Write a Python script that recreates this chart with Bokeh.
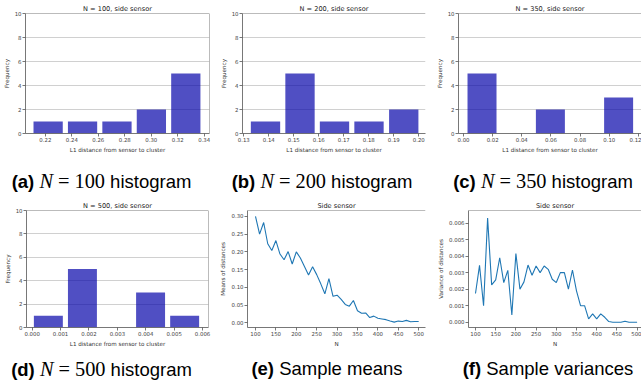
from bokeh.plotting import figure
from bokeh.layouts import column, row
from bokeh.models import Div, FixedTicker, PrintfTickFormatter, Range1d, Span
from bokeh.embed import file_html
from bokeh.resources import INLINE

# ---------------- data ----------------
HIST_A_CENTERS = [0.2221, 0.2481, 0.2741, 0.3001, 0.3261]
HIST_A_COUNTS = [1, 1, 1, 2, 5]
HIST_B_CENTERS = [0.1387, 0.1525, 0.1663, 0.1801, 0.1940]
HIST_B_COUNTS = [1, 5, 1, 1, 2]
HIST_C_CENTERS = [0.0127, 0.0361, 0.0596, 0.0830, 0.1064]
HIST_C_COUNTS = [5, 0, 2, 0, 3]
HIST_D_CENTERS = [0.00057, 0.00177, 0.00297, 0.00417, 0.00537]
HIST_D_COUNTS = [1, 5, 0, 3, 1]

HIST_A_TICKS = [0.22, 0.24, 0.26, 0.28, 0.30, 0.32, 0.34]
HIST_B_TICKS = [0.13, 0.14, 0.15, 0.16, 0.17, 0.18, 0.19, 0.20]
HIST_C_TICKS = [0.00, 0.02, 0.04, 0.06, 0.08, 0.10, 0.12]
HIST_D_TICKS = [0.000, 0.001, 0.002, 0.003, 0.004, 0.005, 0.006]
FREQ_TICKS = [0, 2, 4, 6, 8, 10]

N_VALUES = [100, 110, 120, 130, 140, 150, 160, 170, 180, 190,
            200, 210, 220, 230, 240, 250, 260, 270, 280, 290,
            300, 310, 320, 330, 340, 350, 360, 370, 380, 390,
            400, 410, 420, 430, 440, 450, 460, 470, 480, 490, 500]
MEANS = [0.300, 0.250, 0.283, 0.223, 0.204, 0.232, 0.194, 0.178, 0.201, 0.166,
         0.200, 0.183, 0.159, 0.135, 0.158, 0.136, 0.110, 0.082, 0.125, 0.075,
         0.078, 0.066, 0.052, 0.047, 0.063, 0.034, 0.027, 0.028, 0.015, 0.019,
         0.013, 0.011, 0.009, 0.005, 0.002, 0.005, 0.004, 0.007, 0.003, 0.004, 0.004]
VARIANCES = [0.00174, 0.00344, 0.00100, 0.00630, 0.00226, 0.00256, 0.00390, 0.00240, 0.00314, 0.00044,
             0.00416, 0.00200, 0.00244, 0.00346, 0.00284, 0.00340, 0.00300, 0.00340, 0.00320, 0.00260,
             0.00240, 0.00300, 0.00300, 0.00200, 0.00316, 0.00190, 0.00100, 0.00100, 0.00020, 0.00050,
             0.00020, 0.00050, 0.00030, 0.00004, 0.00000, 0.00000, 0.00000, 0.00006, 0.00000, 0.00000, 0.00000]
N_TICKS = [100, 150, 200, 250, 300, 350, 400, 450, 500]
MEAN_TICKS = [0.00, 0.05, 0.10, 0.15, 0.20, 0.25, 0.30]
VAR_TICKS = [0.000, 0.001, 0.002, 0.003, 0.004, 0.005, 0.006]

# ---------------- style ----------------
FONT = "DejaVu Sans"
SPINE = "#555555"
BAR_COLOR = "#0504aa"
LINE_COLOR = "#1f77b4"


def base_fig(title, w, h, bl, br, bt, bb, xr, yr, xticks, xfmt, yticks, yfmt,
             xlabel, ylabel, right_spine, ygrid):
    p = figure(width=w, height=h, output_backend="svg", toolbar_location=None,
               x_range=Range1d(*xr), y_range=Range1d(*yr),
               min_border_left=bl, min_border_right=br,
               min_border_top=bt, min_border_bottom=bb)
    p.title.text = title
    p.title.text_font = FONT
    p.title.text_font_size = "6.6px"
    p.title.text_font_style = "normal"
    p.title.text_color = "#222222"
    p.title.align = "center"
    p.title.standoff = 2
    p.outline_line_color = None
    p.xaxis.ticker = FixedTicker(ticks=xticks)
    p.yaxis.ticker = FixedTicker(ticks=yticks)
    p.xaxis.formatter = PrintfTickFormatter(format=xfmt)
    p.yaxis.formatter = PrintfTickFormatter(format=yfmt)
    p.xaxis.axis_label = xlabel
    p.yaxis.axis_label = ylabel
    for ax in (p.xaxis[0], p.yaxis[0]):
        ax.major_tick_out = 3
        ax.major_tick_in = 0
        ax.minor_tick_out = 0
        ax.minor_tick_in = 0
        ax.major_tick_line_color = SPINE
        ax.major_tick_line_width = 0.8
        ax.axis_line_color = SPINE
        ax.axis_line_width = 0.8
        ax.major_label_text_font = FONT
        ax.major_label_text_font_size = "5.4px"
        ax.major_label_text_color = "#444444"
        ax.major_label_standoff = 1
        ax.axis_label_text_font = FONT
        ax.axis_label_text_font_size = "5.6px"
        ax.axis_label_text_font_style = "normal"
        ax.axis_label_text_color = "#333333"
        ax.axis_label_standoff = 2
    p.xgrid.grid_line_color = None
    if ygrid:
        p.ygrid.grid_line_color = "#b0b0b0"
        p.ygrid.grid_line_alpha = 0.75
        p.ygrid.grid_line_width = 0.8
    else:
        p.ygrid.grid_line_color = None
    p.add_layout(Span(location=yr[1], dimension="width", line_color=SPINE, line_width=0.8))
    if right_spine:
        p.add_layout(Span(location=xr[1], dimension="height", line_color=SPINE, line_width=0.8))
    return p


def hist_fig(n, centers, counts, w, h, bl, br, bt, bb, xr, xticks, xfmt, right_spine):
    p = base_fig(f"N = {n}, side sensor", w, h, bl, br, bt, bb, xr, (0, 10),
                 xticks, xfmt, FREQ_TICKS, "%d",
                 "L1 distance from sensor to cluster", "Frequency", right_spine, True)
    bin_w = centers[1] - centers[0]
    xs = [c for c, k in zip(centers, counts) if k > 0]
    ks = [k for k in counts if k > 0]
    p.vbar(x=xs, top=ks, bottom=0, width=bin_w * 0.85,
           fill_color=BAR_COLOR, fill_alpha=0.7, line_color=None)
    return p


fa = hist_fig(100, HIST_A_CENTERS, HIST_A_COUNTS, 213, 155, 25, 4, 13, 22,
              (0.205, 0.344), HIST_A_TICKS, "%.2f", True)
fb = hist_fig(200, HIST_B_CENTERS, HIST_B_COUNTS, 214, 155, 29, 2, 13, 22,
              (0.1295, 0.2027), HIST_B_TICKS, "%.2f", False)
fc = hist_fig(350, HIST_C_CENTERS, HIST_C_COUNTS, 214, 155, 31, 0, 13, 22,
              (-0.00343, 0.1221), HIST_C_TICKS, "%.2f", False)
fd = hist_fig(500, HIST_D_CENTERS, HIST_D_COUNTS, 213, 152, 26, 5, 11, 23,
              (-0.0002, 0.00621), HIST_D_TICKS, "%.3f", True)

fe = base_fig("Side sensor", 214, 152, 34, 2, 11, 23, (80.4, 516.7), (-0.0131, 0.3168),
              N_TICKS, "%d", MEAN_TICKS, "%.2f", "N", "Means of distances", False, False)
fe.line(N_VALUES, MEANS, line_color=LINE_COLOR, line_width=1.1)

ff = base_fig("Side sensor", 214, 152, 41, 0, 11, 23, (82.7, 510.9), (-0.00032, 0.00676),
              N_TICKS, "%d", VAR_TICKS, "%.3f", "N", "Variance of distances", False, False)
ff.line(N_VALUES, VARIANCES, line_color=LINE_COLOR, line_width=1.1)


def caption(label, body, w, h, top, left):
    html = (f'<div style="position:relative;top:{top}px;left:{left}px;width:{w}px;'
            f'text-align:center;white-space:nowrap;font-family:\'Liberation Sans\',Arial,sans-serif;'
            f'font-size:18.5px;line-height:20px;color:#000;"><b>({label})</b> {body}</div>')
    return Div(text=html, width=w, height=h, margin=0)


def math_n(n):
    return (f'<span style="font-family:\'Liberation Serif\',serif;font-size:1.1em">'
            f'<i>N</i><span style="margin:0 5px">=</span>{n}</span> histogram')


ca = caption("a", math_n(100), 213, 43, 16, -5)
cb = caption("b", math_n(200), 214, 43, 16, 2)
cc = caption("c", math_n(350), 214, 43, 16, 9)
cd = caption("d", math_n(500), 213, 39, 9, -5)
ce = caption("e", "Sample means", 214, 39, 9, 7)
cf = caption("f", "Sample variances", 214, 39, 9, 14)

layout = column(row(fa, fb, fc), row(ca, cb, cc), row(fd, fe, ff), row(cd, ce, cf))

open("out.html", "w").write(file_html(layout, INLINE))
